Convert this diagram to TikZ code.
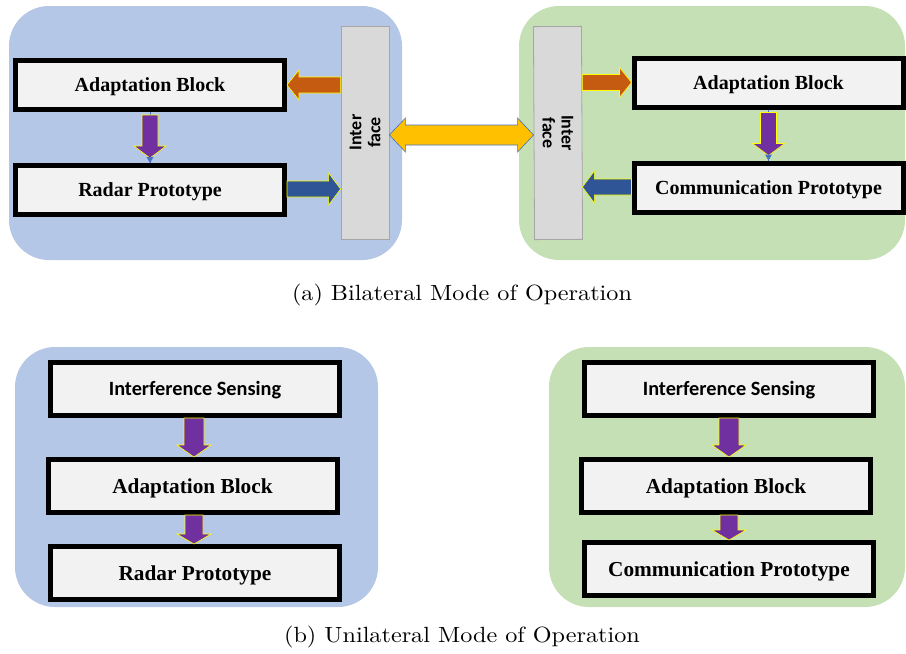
\documentclass[tikz,border=0pt]{standalone}
\usepackage{fontspec}
\newfontfamily\boxserif{Liberation Serif}
\newfontfamily\boxsans{Carlito}
\newfontfamily\capfont{lmroman10-regular}[Extension=.otf]
\usetikzlibrary{calc}

\definecolor{panelblue}{HTML}{B4C7E7}
\definecolor{panelgreen}{HTML}{C5E0B4}
\definecolor{boxfill}{HTML}{F2F2F2}
\definecolor{ifacefill}{HTML}{D9D9D9}
\definecolor{ifaceline}{HTML}{A6A6A6}
\definecolor{arrorange}{HTML}{C55A11}
\definecolor{arrblue}{HTML}{2F5597}
\definecolor{arrpurple}{HTML}{7030A0}
\definecolor{arryellow}{HTML}{FFC000}
\definecolor{rimyellow}{HTML}{FFFF00}
\definecolor{linkblue}{HTML}{4472C4}

% block arrow from #2 to #3: style #1, half body #4, half head #5, head length #6
\newcommand\blockarrow[6]{%
  \coordinate (ba-s) at (#2);
  \coordinate (ba-e) at (#3);
  \coordinate (ba-h) at ($(ba-e)!#6!(ba-s)$);
  \filldraw[#1] ($(ba-s)!#4!90:(ba-e)$) -- ($(ba-h)!#4!90:(ba-e)$)
    -- ($(ba-h)!#5!90:(ba-e)$) -- (ba-e) -- ($(ba-h)!#5!-90:(ba-e)$)
    -- ($(ba-h)!#4!-90:(ba-e)$) -- ($(ba-s)!#4!-90:(ba-e)$) -- cycle;}

% double-headed block arrow between #2 and #3
\newcommand\twowayarrow[6]{%
  \coordinate (da-s) at (#2);
  \coordinate (da-e) at (#3);
  \coordinate (da-h) at ($(da-e)!#6!(da-s)$);
  \coordinate (da-g) at ($(da-s)!#6!(da-e)$);
  \filldraw[#1] (da-s) -- ($(da-g)!#5!-90:(da-s)$) -- ($(da-g)!#4!-90:(da-s)$)
    -- ($(da-h)!#4!90:(da-e)$) -- ($(da-h)!#5!90:(da-e)$) -- (da-e)
    -- ($(da-h)!#5!-90:(da-e)$) -- ($(da-h)!#4!-90:(da-e)$)
    -- ($(da-g)!#4!90:(da-s)$) -- ($(da-g)!#5!90:(da-s)$) -- cycle;}

\tikzset{
  panel/.style={rounded corners=40pt, draw=none},
  block/.style={draw=black, line width=5pt, fill=boxfill, inner sep=0pt,
    minimum width=269pt, minimum height=49pt, text height=13.5pt, text depth=0pt,
    font=\boxserif\bfseries\fontsize{20}{23}\selectfont},
  lowblock/.style={block, minimum width=289pt, minimum height=53pt, text height=14pt,
    font=\boxserif\bfseries\fontsize{21.3}{24}\selectfont},
  sensebox/.style={lowblock, text height=13pt,
    font=\boxsans\bfseries\fontsize{20.3}{23}\selectfont},
  iface/.style={draw=ifaceline, line width=0.8pt, fill=ifacefill, inner sep=0pt,
    minimum width=48pt, minimum height=213pt},
  ifacetext/.style={font=\boxsans\bfseries\fontsize{18}{19}\selectfont, align=center, inner sep=0pt},
  caption/.style={font=\capfont\fontsize{22}{26}\selectfont, inner sep=0pt, xscale=1.1},
  orangearrow/.style={fill=arrorange, draw=rimyellow, line width=0.6pt},
  bluearrow/.style={fill=arrblue, draw=rimyellow, line width=0.6pt},
  purplearrow/.style={fill=arrpurple, draw=rimyellow, line width=0.6pt},
  yellowarrow/.style={fill=arryellow, draw=linkblue, line width=0.6pt},
  link/.style={draw=linkblue, line width=0.6pt},
}

\begin{document}
\begin{tikzpicture}[x=1pt, y=-1pt]
\useasboundingbox (0,0) rectangle (906,654);

% ---------- bilateral mode ----------
\fill[panelblue, panel] (9,6) rectangle (402,260);
\fill[panelgreen, panel] (519,6) rectangle (905,260);

\node[iface] (ifl) at (365,132.5) {};
\node[ifacetext, rotate=90] (iflt) at (ifl) {Inter\\face};
\node[iface, rotate=0.3] (ifr) at (558,133) {};
\node[ifacetext, rotate=-89.7] (ifrt) at (ifr) {Inter\\face};

\node[block] (abl) at (150,85) {Adaptation Block};
\node[block] (rpl) at (150,190) {Radar Prototype};
\node[block] (abr) at (768.5,82.5) {Adaptation Block};
\node[block] (cpr) at (768.5,187.5) {Communication Prototype};

\coordinate (ol) at (ifl.west |- abl.east);
\blockarrow{orangearrow}{ol}{abl.east}{8pt}{15pt}{12pt}
\coordinate (bl) at (rpl.east |- 0,189);
\blockarrow{bluearrow}{bl}{ifl.west |- bl}{8pt}{16pt}{12pt}

\draw[link] (abl.south) -- (rpl.north);
\blockarrow{purplearrow}{$(abl.south)+(0,3)$}{$(rpl.north)+(0,-5)$}{8pt}{16pt}{12pt}
\fill[linkblue] (rpl.north) -- ++(-3.5,-6) -- ++(7,0) -- cycle;

\coordinate (or) at (ifr.east |- abr.west);
\blockarrow{orangearrow}{or}{abr.west}{8pt}{15pt}{12pt}
\coordinate (br) at (abr.west |- 0,187);
\blockarrow{bluearrow}{br}{ifr.east |- br}{8pt}{16pt}{12pt}

\draw[link] (abr.south) -- (cpr.north);
\blockarrow{purplearrow}{$(abr.south)+(0,3)$}{$(cpr.north)+(0,-5)$}{8pt}{16pt}{12pt}
\fill[linkblue] (cpr.north) -- ++(-3.5,-6) -- ++(7,0) -- cycle;

\coordinate (yl) at (ifl.east |- 0,135);
\coordinate (yr) at (ifr.west |- 0,135);
\twowayarrow{yellowarrow}{yl}{yr}{10pt}{17pt}{16pt}

\node[caption] (capa) at (462,295) {(a) Bilateral Mode of Operation};

% ---------- unilateral mode ----------
\fill[panelblue, panel] (15,347) rectangle (378,607);
\fill[panelgreen, panel] (549,347) rectangle (905,607);

\node[sensebox] (isl) at (195,389) {Interference Sensing};
\node[lowblock] (adl) at (192.5,486) {Adaptation Block};
\node[lowblock] (rdl) at (195,573) {Radar Prototype};

\coordinate (pl1) at (194,0);
\blockarrow{purplearrow}{isl.south -| pl1}{adl.north -| pl1}{10pt}{17pt}{12pt}
\blockarrow{purplearrow}{adl.south -| pl1}{rdl.north -| pl1}{9pt}{17pt}{10pt}

\node[sensebox] (isr) at (729,389) {Interference Sensing};
\node[lowblock] (adr) at (726,486) {Adaptation Block};
\node[lowblock] (cpb) at (729,569) {Communication Prototype};

\coordinate (pr1) at (729,0);
\blockarrow{purplearrow}{isr.south -| pr1}{adr.north -| pr1}{10pt}{17pt}{12pt}
\blockarrow{purplearrow}{adr.south -| pr1}{cpb.north -| pr1}{9pt}{17pt}{10pt}

\node[caption] (capb) at (462,637) {(b) Unilateral Mode of Operation};
\end{tikzpicture}
\end{document}
